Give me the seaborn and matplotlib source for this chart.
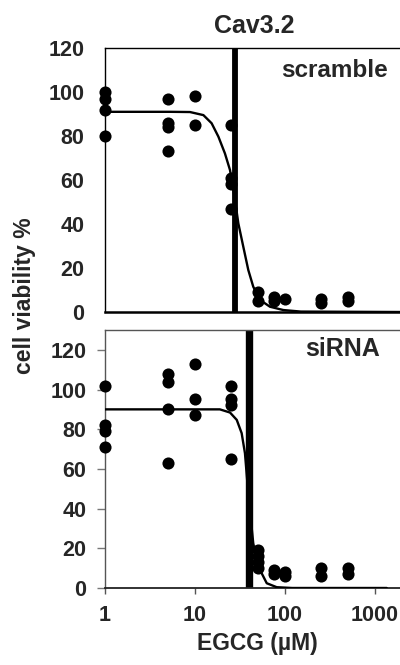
import numpy as np
import seaborn as sns
import matplotlib
matplotlib.use("Agg")
import matplotlib.pyplot as plt

# scatter data (dose in uM, viability in %)
scramble_dose = [1, 1, 1, 1, 5, 5, 5, 5, 10, 10, 25, 25, 25, 25,
                 50, 50, 75, 75, 100, 250, 250, 500, 500]
scramble_viab = [100, 97, 92, 80, 97, 86, 84, 73, 98, 85, 85, 61, 58, 47,
                 9, 5, 7, 5, 6, 6, 4, 7, 5]

sirna_dose = [1, 1, 1, 1, 5, 5, 5, 5, 10, 10, 10, 25, 25, 25, 25,
              50, 50, 50, 50, 75, 75, 100, 100, 250, 250, 500, 500]
sirna_viab = [102, 82, 79, 71, 108, 104, 90, 63, 113, 95, 87, 102, 95, 92, 65,
              19, 16, 13, 10, 9, 7, 8, 6, 10, 6, 10, 7]

# fitted curves
scramble_fit_x = [1, 5.3, 8.8, 12.4, 15.3, 18.2, 21.5, 24.5, 27.6, 30.3,
                  34.4, 39.1, 44.4, 52.7, 68.1, 95.7, 150, 2000]
scramble_fit_y = [91, 91, 90.9, 89.5, 85.8, 79.7, 72.1, 64.5, 52, 40.3,
                  29.7, 19.1, 11.5, 5.5, 2.4, 0.9, 0.2, 0]
sirna_fit_x = [1, 11.4, 18.9, 24.5, 29.1, 33, 35.9, 39.5, 44.4, 48.5,
               55.1, 62.7, 80.9, 120, 1350]
sirna_fit_y = [90, 90, 90, 88.4, 84.7, 78, 67.9, 45, 22.5, 14.1,
               7.4, 2.4, 0.4, 0, 0]

# IC50 markers
ic50 = [27.6, 39.5]
y_ticks = [0, 20, 40, 60, 80, 100, 120]
x_ticks = [1, 10, 100, 1000]

sns.set_style("white")
plt.rcParams['font.family'] = ['Liberation Sans', 'DejaVu Sans']
plt.rcParams['font.weight'] = 'bold'

fig = plt.figure(figsize=(4, 6.65), dpi=100)
ax1 = fig.add_axes([0.2625, 0.5308, 0.7375, 0.397])
ax2 = fig.add_axes([0.2625, 0.1158, 0.7375, 0.388])

panels = [
    (ax1, scramble_dose, scramble_viab, scramble_fit_x, scramble_fit_y, 120),
    (ax2, sirna_dose, sirna_viab, sirna_fit_x, sirna_fit_y, 130),
]

for i, (ax, dx, dy, fx, fy, ymax) in enumerate(panels):
    ax.set_xscale('log')
    ax.set_xlim(1, 1896)
    ax.set_ylim(0, ymax)
    ax.axvline(ic50[i], color='black', lw=4.2 if i == 0 else 5.3, zorder=2)
    sns.lineplot(x=fx, y=fy, ax=ax, color='black', lw=1.7,
                 estimator=None, sort=False, zorder=3)
    sns.scatterplot(x=dx, y=dy, ax=ax, color='black', s=76,
                    edgecolor='black', linewidth=0, clip_on=False, zorder=4)
    ax.set_yticks(y_ticks)
    ax.set_xticks(x_ticks)
    ax.minorticks_off()
    ax.spines['right'].set_visible(False)
    for t in ax.get_yticklabels() + ax.get_xticklabels():
        t.set_fontweight('bold')

ax1.text(0.959, 0.913, "scramble", transform=ax1.transAxes, ha='right',
         va='center', fontsize=17.5, fontweight='bold')
ax2.text(0.932, 0.926, "siRNA", transform=ax2.transAxes, ha='right',
         va='center', fontsize=18, fontweight='bold')

# top panel: black frame, no ticks
for s in ['top', 'left']:
    ax1.spines[s].set_color('black')
    ax1.spines[s].set_linewidth(1.0)
ax1.spines['bottom'].set_color('black')
ax1.spines['bottom'].set_linewidth(1.8)
ax1.tick_params(axis='y', length=0, pad=15, labelsize=15.5)
ax1.tick_params(axis='x', length=0, labelbottom=False)

# bottom panel: grey frame with small outward ticks
for s in ['top', 'left', 'bottom']:
    ax2.spines[s].set_color('#555555')
    ax2.spines[s].set_linewidth(1.0)
ax2.spines['bottom'].set_color('#222222')
ax2.spines['bottom'].set_linewidth(1.3)
ax2.tick_params(axis='y', left=True, length=5.5, width=1, color='#777777',
                pad=8, labelsize=15.5, direction='out')
ax2.tick_params(axis='x', bottom=True, length=4, width=1, color='#555555',
                pad=8, labelsize=15.5, direction='out')
ax2.set_xticklabels([str(v) for v in x_ticks], fontweight='bold')

fig.text(0.635, 1 - 26 / 665, "Cav3.2", ha='center', va='center',
         fontsize=18, fontweight='bold')
fig.text(0.6425, 0.032, "EGCG (µM)", ha='center', va='center',
         fontsize=16.5, fontweight='bold')
fig.text(0.0625, 0.555, "cell viability %", rotation=90, ha='center',
         va='center', fontsize=16.5, fontweight='bold')

fig.savefig("out.png", dpi=100)
